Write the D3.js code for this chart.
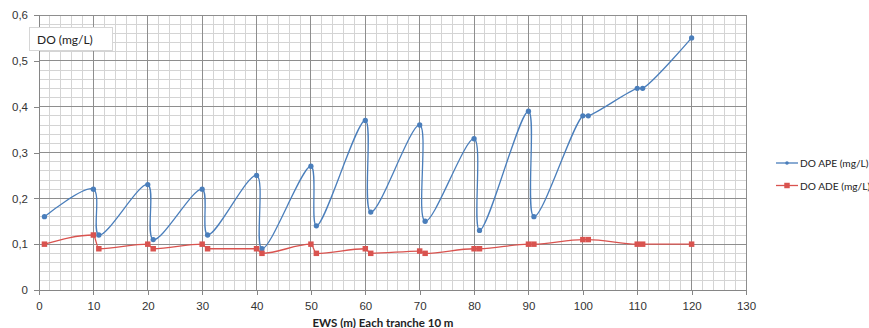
<!DOCTYPE html>
<html>
<head>
<meta charset="utf-8">
<script src="https://cdn.jsdelivr.net/npm/d3@7"></script>
<style>
  html, body { margin: 0; padding: 0; background: #fff; }
  svg { display: block; font-family: Lato, "Open Sans", sans-serif; }
</style>
</head>
<body>
<svg id="chart" width="869" height="328"></svg>
<script>
// Distance along the stream (m), sampled at each tranche start/end
const distances = [1, 10, 11, 20, 21, 30, 31, 40, 41, 50, 51, 60, 61, 70, 71, 80, 81, 90, 91, 100, 101, 110, 111, 120];
// Dissolved oxygen, mg/L
const doAPE = [0.16, 0.22, 0.12, 0.23, 0.11, 0.22, 0.12, 0.25, 0.09, 0.27, 0.14, 0.37, 0.17, 0.36, 0.15, 0.33, 0.13, 0.39, 0.16, 0.38, 0.38, 0.44, 0.44, 0.55];
const doADE = [0.10, 0.12, 0.09, 0.10, 0.09, 0.10, 0.09, 0.09, 0.08, 0.10, 0.08, 0.09, 0.08, 0.085, 0.08, 0.09, 0.09, 0.10, 0.10, 0.11, 0.11, 0.10, 0.10, 0.10];
const xTicks = [0, 10, 20, 30, 40, 50, 60, 70, 80, 90, 100, 110, 120, 130];
const yTicks = [0, 0.1, 0.2, 0.3, 0.4, 0.5, 0.6];
const seriesNames = ["DO APE (mg/L)", "DO ADE (mg/L)"];
const yTitle = "DO (mg/L)";
const xTitle = "EWS (m) Each tranche 10 m";

const svg = d3.select("#chart");
const plot = { left: 39, right: 746, top: 15, bottom: 290 };

const x = d3.scaleLinear().domain([0, 130]).range([plot.left, plot.right]);
const y = d3.scaleLinear().domain([0, 0.6]).range([plot.bottom, plot.top]);

const fmt = v => d3.format(".1f")(v).replace(".", ",").replace(/^0,0$/, "0");

// grid: minor every 2 m / 0.02 mg/L, major every 10 m / 0.1 mg/L
const grid = svg.append("g").attr("shape-rendering", "crispEdges");
const minorX = d3.range(0, 131, 2).filter(v => v % 10 !== 0);
const minorY = d3.range(0, 61, 2).filter(v => v % 10 !== 0).map(v => v / 100);
grid.selectAll(".mx").data(minorX).join("line")
  .attr("x1", d => x(d)).attr("x2", d => x(d))
  .attr("y1", y(0)).attr("y2", y(0.6))
  .attr("stroke", "#d4d4d4");
grid.selectAll(".my").data(minorY).join("line")
  .attr("x1", x(0)).attr("x2", x(130))
  .attr("y1", d => y(d)).attr("y2", d => y(d))
  .attr("stroke", "#d4d4d4");
grid.selectAll(".Mx").data(xTicks).join("line")
  .attr("x1", d => x(d)).attr("x2", d => x(d))
  .attr("y1", y(0)).attr("y2", y(0.6))
  .attr("stroke", "#8e8e8e");
grid.selectAll(".My").data(yTicks).join("line")
  .attr("x1", x(0)).attr("x2", x(130))
  .attr("y1", d => y(d)).attr("y2", d => y(d))
  .attr("stroke", "#8e8e8e");

// axes
const xAxis = d3.axisBottom(x).tickValues(xTicks).tickSize(5).tickFormat(d3.format("d"));
const yAxis = d3.axisLeft(y).tickValues(yTicks).tickSize(5).tickFormat(fmt);
const gx = svg.append("g").attr("transform", `translate(0,${plot.bottom})`).call(xAxis);
const gy = svg.append("g").attr("transform", `translate(${plot.left},0)`).call(yAxis);
[gx, gy].forEach(g => {
  g.select(".domain").attr("stroke", "#868686").attr("shape-rendering", "crispEdges");
  g.selectAll(".tick line").attr("stroke", "#868686").attr("shape-rendering", "crispEdges");
  g.selectAll(".tick text").attr("fill", "#333").style("font-size", "11.5px");
});
gx.selectAll(".tick text").attr("dy", "1.05em");
gy.selectAll(".tick text").attr("x", -11);

// series: APE drawn with a smoothed spline, ADE with a monotone curve
const series = [
  { name: seriesNames[0], values: doAPE, color: "#4a7ebb", marker: "diamond",
    curve: d3.curveCatmullRom.alpha(0.5) },
  { name: seriesNames[1], values: doADE, color: "#d9534f", marker: "square",
    curve: d3.curveMonotoneX }
];

series.forEach(s => {
  const pts = distances.map((d, i) => [d, s.values[i]]);
  const line = d3.line().x(d => x(d[0])).y(d => y(d[1])).curve(s.curve);
  svg.append("path").datum(pts)
    .attr("fill", "none").attr("stroke", s.color).attr("stroke-width", 1.3)
    .attr("d", line);
  const sym = s.marker === "square"
    ? d3.symbol(d3.symbolSquare, 30)
    : d3.symbol(d3.symbolCircle, 22);
  svg.append("g").selectAll("path").data(pts).join("path")
    .attr("transform", d => `translate(${x(d[0])},${y(d[1])})`)
    .attr("d", sym)
    .attr("fill", s.color);
});

// y title box
const tb = svg.append("g");
tb.append("rect").attr("x", 29.5).attr("y", 27.5).attr("width", 83).attr("height", 23)
  .attr("fill", "#fff").attr("stroke", "#d6d6d6");
tb.append("text").attr("x", 37).attr("y", 44).text(yTitle)
  .style("font-size", "12px").attr("fill", "#222");

// x title
svg.append("text").attr("x", 383).attr("y", 327).attr("text-anchor", "middle")
  .style("font-size", "11.5px").style("font-weight", "bold").attr("fill", "#222")
  .text(xTitle);

// legend
const leg = svg.append("g");
series.forEach((s, i) => {
  const ly = 163 + i * 22.5;
  leg.append("line").attr("x1", 776).attr("x2", 798).attr("y1", ly).attr("y2", ly)
    .attr("stroke", s.color).attr("stroke-width", 1.3);
  const sym = s.marker === "square"
    ? d3.symbol(d3.symbolSquare, 30)
    : d3.symbol(d3.symbolCircle, 10);
  leg.append("path").attr("transform", `translate(787,${ly})`).attr("d", sym).attr("fill", s.color);
  leg.append("text").attr("x", 800).attr("y", ly + 4).text(s.name)
    .style("font-size", "10.2px").attr("fill", "#222");
});
</script>
</body>
</html>
